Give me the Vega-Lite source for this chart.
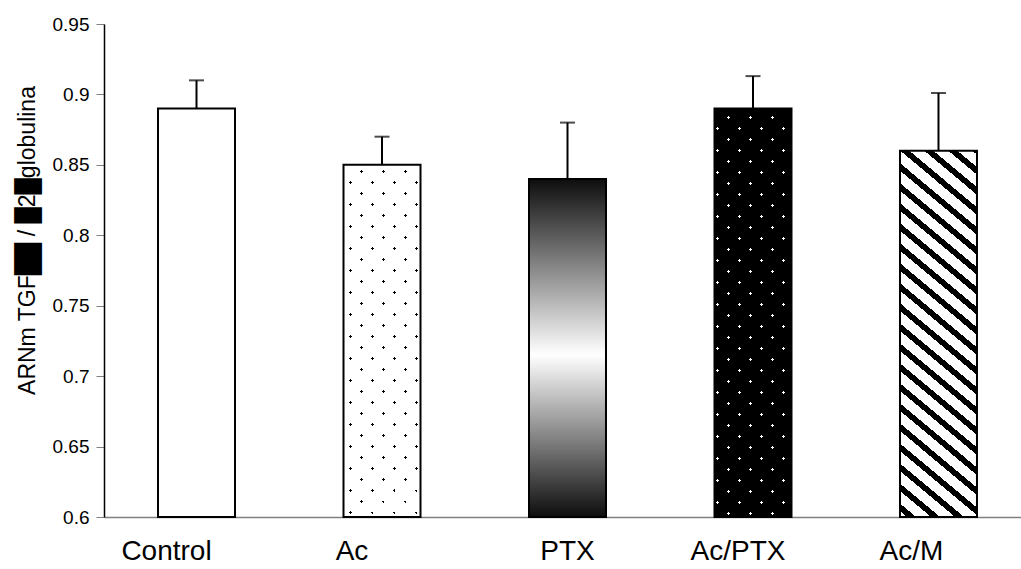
{
  "$schema": "https://vega.github.io/schema/vega-lite/v6.json",
  "autosize": {"type": "none"},
  "padding": {"left": 104, "top": 24, "right": 0, "bottom": 52},
  "width": 917,
  "height": 493,
  "background": "white",
  "config": {"view": {"stroke": null}},
  "data": {"values": [
    {"grupo": "Control", "media": 0.89, "superior": 0.91},
    {"grupo": "Ac", "media": 0.85, "superior": 0.87},
    {"grupo": "PTX", "media": 0.84, "superior": 0.88},
    {"grupo": "Ac/PTX", "media": 0.89, "superior": 0.913},
    {"grupo": "Ac/M", "media": 0.86, "superior": 0.901}
  ]},
  "encoding": {
    "x": {
      "field": "grupo", "type": "nominal", "sort": null,
      "scale": {"paddingInner": 0.5849, "paddingOuter": 0.2642, "align": 0.551, "round": false},
      "axis": {
        "title": null, "labelAngle": 0, "ticks": false,
        "domainColor": "#808080", "domainWidth": 1.5,
        "labelFont": "Liberation Sans", 
        "labelFontSize": 28, "labelColor": "black", "labelPadding": 20,
        "labelOffset": {"condition": [
          {"test": "datum.value === 'Control'", "value": -30},
          {"test": "datum.value === 'Ac'", "value": -30},
          {"test": "datum.value === 'Ac/PTX'", "value": -15},
          {"test": "datum.value === 'Ac/M'", "value": -27}
        ], "value": 0}
      }
    },
    "y": {
      "field": "media", "type": "quantitative",
      "scale": {"domain": [0.6, 0.95], "nice": false, "zero": false},
      "axis": {
        "values": [0.6, 0.65, 0.7, 0.75, 0.8, 0.85, 0.9, 0.95],
        "format": ".2~f", "grid": false,
        "domainColor": "black", "domainWidth": 1.5,
        "tickColor": "#808080", "tickSize": 8, "tickWidth": 1,
        "labelFont": "Liberation Sans",
        "labelFontSize": 19, "labelColor": "black", "labelPadding": 7,
        "title": "ARNm TGF██ / █2█globulina",
        "titleFont": "Liberation Sans",
        "titleFontSize": 23, "titleFontWeight": "normal", "titleColor": "black",
        "titleAngle": 270, "titleAlign": "center", "titleBaseline": "middle",
        "titleX": -77, "titleY": 216
      }
    }
  },
  "layer": [
    {
      "mark": {"type": "bar", "fill": "white", "strokeWidth": 0},
      "encoding": {"y2": {"datum": 0.6}}
    },
    {
      "transform": [{"filter": "datum.grupo === 'PTX'"}],
      "mark": {"type": "bar", "strokeWidth": 0, "fill": {"gradient": "linear", "x1": 0, "y1": 0, "x2": 0, "y2": 1, "stops": [
        {"offset": 0, "color": "#0d0d0d"},
        {"offset": 0.52, "color": "#ffffff"},
        {"offset": 1, "color": "#0d0d0d"}
      ]}},
      "encoding": {"y2": {"datum": 0.6}}
    },
    {
      "transform": [{"filter": "datum.grupo === 'Ac'"}],
      "mark": {"type": "bar", "strokeWidth": 0, "fill": "black"},
      "encoding": {"y2": {"datum": 0.6}}
    },
    {
      "transform": [{"filter": "datum.grupo === 'Ac/M'"}],
      "mark": {"type": "bar", "strokeWidth": 0, "fill": {"gradient": "linear", "x1": 0, "y1": 1, "x2": 0.2, "y2": -0.1405, "stops": [
        {"offset": 0, "color": "white"},
        {"offset": 0.01395, "color": "white"}, {"offset": 0.01395, "color": "black"}, {"offset": 0.03140, "color": "black"}, {"offset": 0.03140, "color": "white"},
        {"offset": 0.06047, "color": "white"}, {"offset": 0.06047, "color": "black"}, {"offset": 0.07791, "color": "black"}, {"offset": 0.07791, "color": "white"},
        {"offset": 0.10698, "color": "white"}, {"offset": 0.10698, "color": "black"}, {"offset": 0.12442, "color": "black"}, {"offset": 0.12442, "color": "white"},
        {"offset": 0.15349, "color": "white"}, {"offset": 0.15349, "color": "black"}, {"offset": 0.17093, "color": "black"}, {"offset": 0.17093, "color": "white"},
        {"offset": 0.20000, "color": "white"}, {"offset": 0.20000, "color": "black"}, {"offset": 0.21744, "color": "black"}, {"offset": 0.21744, "color": "white"},
        {"offset": 0.24651, "color": "white"}, {"offset": 0.24651, "color": "black"}, {"offset": 0.26395, "color": "black"}, {"offset": 0.26395, "color": "white"},
        {"offset": 0.29302, "color": "white"}, {"offset": 0.29302, "color": "black"}, {"offset": 0.31047, "color": "black"}, {"offset": 0.31047, "color": "white"},
        {"offset": 0.33953, "color": "white"}, {"offset": 0.33953, "color": "black"}, {"offset": 0.35698, "color": "black"}, {"offset": 0.35698, "color": "white"},
        {"offset": 0.38605, "color": "white"}, {"offset": 0.38605, "color": "black"}, {"offset": 0.40349, "color": "black"}, {"offset": 0.40349, "color": "white"},
        {"offset": 0.43256, "color": "white"}, {"offset": 0.43256, "color": "black"}, {"offset": 0.45000, "color": "black"}, {"offset": 0.45000, "color": "white"},
        {"offset": 0.47907, "color": "white"}, {"offset": 0.47907, "color": "black"}, {"offset": 0.49651, "color": "black"}, {"offset": 0.49651, "color": "white"},
        {"offset": 0.52558, "color": "white"}, {"offset": 0.52558, "color": "black"}, {"offset": 0.54302, "color": "black"}, {"offset": 0.54302, "color": "white"},
        {"offset": 0.57209, "color": "white"}, {"offset": 0.57209, "color": "black"}, {"offset": 0.58953, "color": "black"}, {"offset": 0.58953, "color": "white"},
        {"offset": 0.61860, "color": "white"}, {"offset": 0.61860, "color": "black"}, {"offset": 0.63605, "color": "black"}, {"offset": 0.63605, "color": "white"},
        {"offset": 0.66512, "color": "white"}, {"offset": 0.66512, "color": "black"}, {"offset": 0.68256, "color": "black"}, {"offset": 0.68256, "color": "white"},
        {"offset": 0.71163, "color": "white"}, {"offset": 0.71163, "color": "black"}, {"offset": 0.72907, "color": "black"}, {"offset": 0.72907, "color": "white"},
        {"offset": 0.75814, "color": "white"}, {"offset": 0.75814, "color": "black"}, {"offset": 0.77558, "color": "black"}, {"offset": 0.77558, "color": "white"},
        {"offset": 0.80465, "color": "white"}, {"offset": 0.80465, "color": "black"}, {"offset": 0.82209, "color": "black"}, {"offset": 0.82209, "color": "white"},
        {"offset": 0.85116, "color": "white"}, {"offset": 0.85116, "color": "black"}, {"offset": 0.86860, "color": "black"}, {"offset": 0.86860, "color": "white"},
        {"offset": 0.89767, "color": "white"}, {"offset": 0.89767, "color": "black"}, {"offset": 0.91512, "color": "black"}, {"offset": 0.91512, "color": "white"},
        {"offset": 0.94419, "color": "white"}, {"offset": 0.94419, "color": "black"}, {"offset": 0.96163, "color": "black"}, {"offset": 0.96163, "color": "white"},
        {"offset": 0.99070, "color": "white"}, {"offset": 0.99070, "color": "black"}, {"offset": 1, "color": "black"}
      ]}},
      "encoding": {"y2": {"datum": 0.6}}
    },
    {
      "transform": [{"filter": "datum.grupo === 'Ac'"}],
      "mark": {"type": "bar", "strokeWidth": 0, "fill": {"gradient": "linear", "x1": 0, "y1": 1, "x2": 0.2544, "y2": -0.1631, "stops": [
        {"offset": 0, "color": "white"},
        {"offset": 0.02261, "color": "white"}, {"offset": 0.02261, "color": "rgba(255,255,255,0)"}, {"offset": 0.02913, "color": "rgba(255,255,255,0)"}, {"offset": 0.02913, "color": "white"},
        {"offset": 0.07388, "color": "white"}, {"offset": 0.07388, "color": "rgba(255,255,255,0)"}, {"offset": 0.08040, "color": "rgba(255,255,255,0)"}, {"offset": 0.08040, "color": "white"},
        {"offset": 0.12515, "color": "white"}, {"offset": 0.12515, "color": "rgba(255,255,255,0)"}, {"offset": 0.13167, "color": "rgba(255,255,255,0)"}, {"offset": 0.13167, "color": "white"},
        {"offset": 0.17642, "color": "white"}, {"offset": 0.17642, "color": "rgba(255,255,255,0)"}, {"offset": 0.18294, "color": "rgba(255,255,255,0)"}, {"offset": 0.18294, "color": "white"},
        {"offset": 0.22769, "color": "white"}, {"offset": 0.22769, "color": "rgba(255,255,255,0)"}, {"offset": 0.23421, "color": "rgba(255,255,255,0)"}, {"offset": 0.23421, "color": "white"},
        {"offset": 0.27896, "color": "white"}, {"offset": 0.27896, "color": "rgba(255,255,255,0)"}, {"offset": 0.28548, "color": "rgba(255,255,255,0)"}, {"offset": 0.28548, "color": "white"},
        {"offset": 0.33023, "color": "white"}, {"offset": 0.33023, "color": "rgba(255,255,255,0)"}, {"offset": 0.33675, "color": "rgba(255,255,255,0)"}, {"offset": 0.33675, "color": "white"},
        {"offset": 0.38150, "color": "white"}, {"offset": 0.38150, "color": "rgba(255,255,255,0)"}, {"offset": 0.38802, "color": "rgba(255,255,255,0)"}, {"offset": 0.38802, "color": "white"},
        {"offset": 0.43277, "color": "white"}, {"offset": 0.43277, "color": "rgba(255,255,255,0)"}, {"offset": 0.43929, "color": "rgba(255,255,255,0)"}, {"offset": 0.43929, "color": "white"},
        {"offset": 0.48404, "color": "white"}, {"offset": 0.48404, "color": "rgba(255,255,255,0)"}, {"offset": 0.49056, "color": "rgba(255,255,255,0)"}, {"offset": 0.49056, "color": "white"},
        {"offset": 0.53531, "color": "white"}, {"offset": 0.53531, "color": "rgba(255,255,255,0)"}, {"offset": 0.54183, "color": "rgba(255,255,255,0)"}, {"offset": 0.54183, "color": "white"},
        {"offset": 0.58658, "color": "white"}, {"offset": 0.58658, "color": "rgba(255,255,255,0)"}, {"offset": 0.59310, "color": "rgba(255,255,255,0)"}, {"offset": 0.59310, "color": "white"},
        {"offset": 0.63785, "color": "white"}, {"offset": 0.63785, "color": "rgba(255,255,255,0)"}, {"offset": 0.64437, "color": "rgba(255,255,255,0)"}, {"offset": 0.64437, "color": "white"},
        {"offset": 0.68912, "color": "white"}, {"offset": 0.68912, "color": "rgba(255,255,255,0)"}, {"offset": 0.69564, "color": "rgba(255,255,255,0)"}, {"offset": 0.69564, "color": "white"},
        {"offset": 0.74039, "color": "white"}, {"offset": 0.74039, "color": "rgba(255,255,255,0)"}, {"offset": 0.74691, "color": "rgba(255,255,255,0)"}, {"offset": 0.74691, "color": "white"},
        {"offset": 0.79166, "color": "white"}, {"offset": 0.79166, "color": "rgba(255,255,255,0)"}, {"offset": 0.79818, "color": "rgba(255,255,255,0)"}, {"offset": 0.79818, "color": "white"},
        {"offset": 0.84293, "color": "white"}, {"offset": 0.84293, "color": "rgba(255,255,255,0)"}, {"offset": 0.84945, "color": "rgba(255,255,255,0)"}, {"offset": 0.84945, "color": "white"},
        {"offset": 0.89420, "color": "white"}, {"offset": 0.89420, "color": "rgba(255,255,255,0)"}, {"offset": 0.90072, "color": "rgba(255,255,255,0)"}, {"offset": 0.90072, "color": "white"},
        {"offset": 0.94547, "color": "white"}, {"offset": 0.94547, "color": "rgba(255,255,255,0)"}, {"offset": 0.95199, "color": "rgba(255,255,255,0)"}, {"offset": 0.95199, "color": "white"},
        {"offset": 1, "color": "white"}
      ]}},
      "encoding": {"y2": {"datum": 0.6}}
    },
    {
      "transform": [{"filter": "datum.grupo === 'Ac'"}],
      "mark": {"type": "bar", "strokeWidth": 0, "fill": {"gradient": "linear", "x1": 0, "y1": 0, "x2": 0.2544, "y2": 1.1631, "stops": [
        {"offset": 0, "color": "white"},
        {"offset": 0.00233, "color": "white"}, {"offset": 0.00233, "color": "rgba(255,255,255,0)"}, {"offset": 0.00885, "color": "rgba(255,255,255,0)"}, {"offset": 0.00885, "color": "white"},
        {"offset": 0.05360, "color": "white"}, {"offset": 0.05360, "color": "rgba(255,255,255,0)"}, {"offset": 0.06012, "color": "rgba(255,255,255,0)"}, {"offset": 0.06012, "color": "white"},
        {"offset": 0.10487, "color": "white"}, {"offset": 0.10487, "color": "rgba(255,255,255,0)"}, {"offset": 0.11139, "color": "rgba(255,255,255,0)"}, {"offset": 0.11139, "color": "white"},
        {"offset": 0.15614, "color": "white"}, {"offset": 0.15614, "color": "rgba(255,255,255,0)"}, {"offset": 0.16266, "color": "rgba(255,255,255,0)"}, {"offset": 0.16266, "color": "white"},
        {"offset": 0.20741, "color": "white"}, {"offset": 0.20741, "color": "rgba(255,255,255,0)"}, {"offset": 0.21393, "color": "rgba(255,255,255,0)"}, {"offset": 0.21393, "color": "white"},
        {"offset": 0.25868, "color": "white"}, {"offset": 0.25868, "color": "rgba(255,255,255,0)"}, {"offset": 0.26520, "color": "rgba(255,255,255,0)"}, {"offset": 0.26520, "color": "white"},
        {"offset": 0.30995, "color": "white"}, {"offset": 0.30995, "color": "rgba(255,255,255,0)"}, {"offset": 0.31647, "color": "rgba(255,255,255,0)"}, {"offset": 0.31647, "color": "white"},
        {"offset": 0.36122, "color": "white"}, {"offset": 0.36122, "color": "rgba(255,255,255,0)"}, {"offset": 0.36774, "color": "rgba(255,255,255,0)"}, {"offset": 0.36774, "color": "white"},
        {"offset": 0.41249, "color": "white"}, {"offset": 0.41249, "color": "rgba(255,255,255,0)"}, {"offset": 0.41901, "color": "rgba(255,255,255,0)"}, {"offset": 0.41901, "color": "white"},
        {"offset": 0.46376, "color": "white"}, {"offset": 0.46376, "color": "rgba(255,255,255,0)"}, {"offset": 0.47028, "color": "rgba(255,255,255,0)"}, {"offset": 0.47028, "color": "white"},
        {"offset": 0.51503, "color": "white"}, {"offset": 0.51503, "color": "rgba(255,255,255,0)"}, {"offset": 0.52155, "color": "rgba(255,255,255,0)"}, {"offset": 0.52155, "color": "white"},
        {"offset": 0.56630, "color": "white"}, {"offset": 0.56630, "color": "rgba(255,255,255,0)"}, {"offset": 0.57282, "color": "rgba(255,255,255,0)"}, {"offset": 0.57282, "color": "white"},
        {"offset": 0.61757, "color": "white"}, {"offset": 0.61757, "color": "rgba(255,255,255,0)"}, {"offset": 0.62409, "color": "rgba(255,255,255,0)"}, {"offset": 0.62409, "color": "white"},
        {"offset": 0.66884, "color": "white"}, {"offset": 0.66884, "color": "rgba(255,255,255,0)"}, {"offset": 0.67536, "color": "rgba(255,255,255,0)"}, {"offset": 0.67536, "color": "white"},
        {"offset": 0.72011, "color": "white"}, {"offset": 0.72011, "color": "rgba(255,255,255,0)"}, {"offset": 0.72663, "color": "rgba(255,255,255,0)"}, {"offset": 0.72663, "color": "white"},
        {"offset": 0.77138, "color": "white"}, {"offset": 0.77138, "color": "rgba(255,255,255,0)"}, {"offset": 0.77790, "color": "rgba(255,255,255,0)"}, {"offset": 0.77790, "color": "white"},
        {"offset": 0.82265, "color": "white"}, {"offset": 0.82265, "color": "rgba(255,255,255,0)"}, {"offset": 0.82917, "color": "rgba(255,255,255,0)"}, {"offset": 0.82917, "color": "white"},
        {"offset": 0.87392, "color": "white"}, {"offset": 0.87392, "color": "rgba(255,255,255,0)"}, {"offset": 0.88044, "color": "rgba(255,255,255,0)"}, {"offset": 0.88044, "color": "white"},
        {"offset": 0.92519, "color": "white"}, {"offset": 0.92519, "color": "rgba(255,255,255,0)"}, {"offset": 0.93171, "color": "rgba(255,255,255,0)"}, {"offset": 0.93171, "color": "white"},
        {"offset": 0.97646, "color": "white"}, {"offset": 0.97646, "color": "rgba(255,255,255,0)"}, {"offset": 0.98298, "color": "rgba(255,255,255,0)"}, {"offset": 0.98298, "color": "white"},
        {"offset": 1, "color": "white"}
      ]}},
      "encoding": {"y2": {"datum": 0.6}}
    },
    {
      "transform": [{"filter": "datum.grupo === 'Ac/PTX'"}],
      "mark": {"type": "bar", "strokeWidth": 0, "fill": {"gradient": "linear", "x1": 0, "y1": 1, "x2": 0.2163, "y2": -0.1477, "stops": [
        {"offset": 0, "color": "black"},
        {"offset": 0.03275, "color": "black"}, {"offset": 0.03275, "color": "rgba(0,0,0,0)"}, {"offset": 0.03851, "color": "rgba(0,0,0,0)"}, {"offset": 0.03851, "color": "black"},
        {"offset": 0.07807, "color": "black"}, {"offset": 0.07807, "color": "rgba(0,0,0,0)"}, {"offset": 0.08383, "color": "rgba(0,0,0,0)"}, {"offset": 0.08383, "color": "black"},
        {"offset": 0.12338, "color": "black"}, {"offset": 0.12338, "color": "rgba(0,0,0,0)"}, {"offset": 0.12914, "color": "rgba(0,0,0,0)"}, {"offset": 0.12914, "color": "black"},
        {"offset": 0.16870, "color": "black"}, {"offset": 0.16870, "color": "rgba(0,0,0,0)"}, {"offset": 0.17446, "color": "rgba(0,0,0,0)"}, {"offset": 0.17446, "color": "black"},
        {"offset": 0.21401, "color": "black"}, {"offset": 0.21401, "color": "rgba(0,0,0,0)"}, {"offset": 0.21977, "color": "rgba(0,0,0,0)"}, {"offset": 0.21977, "color": "black"},
        {"offset": 0.25932, "color": "black"}, {"offset": 0.25932, "color": "rgba(0,0,0,0)"}, {"offset": 0.26508, "color": "rgba(0,0,0,0)"}, {"offset": 0.26508, "color": "black"},
        {"offset": 0.30464, "color": "black"}, {"offset": 0.30464, "color": "rgba(0,0,0,0)"}, {"offset": 0.31040, "color": "rgba(0,0,0,0)"}, {"offset": 0.31040, "color": "black"},
        {"offset": 0.34995, "color": "black"}, {"offset": 0.34995, "color": "rgba(0,0,0,0)"}, {"offset": 0.35571, "color": "rgba(0,0,0,0)"}, {"offset": 0.35571, "color": "black"},
        {"offset": 0.39527, "color": "black"}, {"offset": 0.39527, "color": "rgba(0,0,0,0)"}, {"offset": 0.40103, "color": "rgba(0,0,0,0)"}, {"offset": 0.40103, "color": "black"},
        {"offset": 0.44058, "color": "black"}, {"offset": 0.44058, "color": "rgba(0,0,0,0)"}, {"offset": 0.44634, "color": "rgba(0,0,0,0)"}, {"offset": 0.44634, "color": "black"},
        {"offset": 0.48589, "color": "black"}, {"offset": 0.48589, "color": "rgba(0,0,0,0)"}, {"offset": 0.49165, "color": "rgba(0,0,0,0)"}, {"offset": 0.49165, "color": "black"},
        {"offset": 0.53121, "color": "black"}, {"offset": 0.53121, "color": "rgba(0,0,0,0)"}, {"offset": 0.53697, "color": "rgba(0,0,0,0)"}, {"offset": 0.53697, "color": "black"},
        {"offset": 0.57652, "color": "black"}, {"offset": 0.57652, "color": "rgba(0,0,0,0)"}, {"offset": 0.58228, "color": "rgba(0,0,0,0)"}, {"offset": 0.58228, "color": "black"},
        {"offset": 0.62184, "color": "black"}, {"offset": 0.62184, "color": "rgba(0,0,0,0)"}, {"offset": 0.62760, "color": "rgba(0,0,0,0)"}, {"offset": 0.62760, "color": "black"},
        {"offset": 0.66715, "color": "black"}, {"offset": 0.66715, "color": "rgba(0,0,0,0)"}, {"offset": 0.67291, "color": "rgba(0,0,0,0)"}, {"offset": 0.67291, "color": "black"},
        {"offset": 0.71246, "color": "black"}, {"offset": 0.71246, "color": "rgba(0,0,0,0)"}, {"offset": 0.71822, "color": "rgba(0,0,0,0)"}, {"offset": 0.71822, "color": "black"},
        {"offset": 0.75778, "color": "black"}, {"offset": 0.75778, "color": "rgba(0,0,0,0)"}, {"offset": 0.76354, "color": "rgba(0,0,0,0)"}, {"offset": 0.76354, "color": "black"},
        {"offset": 0.80309, "color": "black"}, {"offset": 0.80309, "color": "rgba(0,0,0,0)"}, {"offset": 0.80885, "color": "rgba(0,0,0,0)"}, {"offset": 0.80885, "color": "black"},
        {"offset": 0.84841, "color": "black"}, {"offset": 0.84841, "color": "rgba(0,0,0,0)"}, {"offset": 0.85417, "color": "rgba(0,0,0,0)"}, {"offset": 0.85417, "color": "black"},
        {"offset": 0.89372, "color": "black"}, {"offset": 0.89372, "color": "rgba(0,0,0,0)"}, {"offset": 0.89948, "color": "rgba(0,0,0,0)"}, {"offset": 0.89948, "color": "black"},
        {"offset": 0.93903, "color": "black"}, {"offset": 0.93903, "color": "rgba(0,0,0,0)"}, {"offset": 0.94479, "color": "rgba(0,0,0,0)"}, {"offset": 0.94479, "color": "black"},
        {"offset": 0.98435, "color": "black"}, {"offset": 0.98435, "color": "rgba(0,0,0,0)"}, {"offset": 0.99011, "color": "rgba(0,0,0,0)"}, {"offset": 0.99011, "color": "black"},
        {"offset": 1, "color": "black"}
      ]}},
      "encoding": {"y2": {"datum": 0.6}}
    },
    {
      "transform": [{"filter": "datum.grupo === 'Ac/PTX'"}],
      "mark": {"type": "bar", "strokeWidth": 0, "fill": {"gradient": "linear", "x1": 0, "y1": 0, "x2": 0.2163, "y2": 1.1477, "stops": [
        {"offset": 0, "color": "rgba(0,0,0,0)"}, {"offset": 0.00535, "color": "rgba(0,0,0,0)"}, {"offset": 0.00535, "color": "black"},
        {"offset": 0.04491, "color": "black"}, {"offset": 0.04491, "color": "rgba(0,0,0,0)"}, {"offset": 0.05067, "color": "rgba(0,0,0,0)"}, {"offset": 0.05067, "color": "black"},
        {"offset": 0.09022, "color": "black"}, {"offset": 0.09022, "color": "rgba(0,0,0,0)"}, {"offset": 0.09598, "color": "rgba(0,0,0,0)"}, {"offset": 0.09598, "color": "black"},
        {"offset": 0.13553, "color": "black"}, {"offset": 0.13553, "color": "rgba(0,0,0,0)"}, {"offset": 0.14129, "color": "rgba(0,0,0,0)"}, {"offset": 0.14129, "color": "black"},
        {"offset": 0.18085, "color": "black"}, {"offset": 0.18085, "color": "rgba(0,0,0,0)"}, {"offset": 0.18661, "color": "rgba(0,0,0,0)"}, {"offset": 0.18661, "color": "black"},
        {"offset": 0.22616, "color": "black"}, {"offset": 0.22616, "color": "rgba(0,0,0,0)"}, {"offset": 0.23192, "color": "rgba(0,0,0,0)"}, {"offset": 0.23192, "color": "black"},
        {"offset": 0.27148, "color": "black"}, {"offset": 0.27148, "color": "rgba(0,0,0,0)"}, {"offset": 0.27724, "color": "rgba(0,0,0,0)"}, {"offset": 0.27724, "color": "black"},
        {"offset": 0.31679, "color": "black"}, {"offset": 0.31679, "color": "rgba(0,0,0,0)"}, {"offset": 0.32255, "color": "rgba(0,0,0,0)"}, {"offset": 0.32255, "color": "black"},
        {"offset": 0.36210, "color": "black"}, {"offset": 0.36210, "color": "rgba(0,0,0,0)"}, {"offset": 0.36786, "color": "rgba(0,0,0,0)"}, {"offset": 0.36786, "color": "black"},
        {"offset": 0.40742, "color": "black"}, {"offset": 0.40742, "color": "rgba(0,0,0,0)"}, {"offset": 0.41318, "color": "rgba(0,0,0,0)"}, {"offset": 0.41318, "color": "black"},
        {"offset": 0.45273, "color": "black"}, {"offset": 0.45273, "color": "rgba(0,0,0,0)"}, {"offset": 0.45849, "color": "rgba(0,0,0,0)"}, {"offset": 0.45849, "color": "black"},
        {"offset": 0.49805, "color": "black"}, {"offset": 0.49805, "color": "rgba(0,0,0,0)"}, {"offset": 0.50381, "color": "rgba(0,0,0,0)"}, {"offset": 0.50381, "color": "black"},
        {"offset": 0.54336, "color": "black"}, {"offset": 0.54336, "color": "rgba(0,0,0,0)"}, {"offset": 0.54912, "color": "rgba(0,0,0,0)"}, {"offset": 0.54912, "color": "black"},
        {"offset": 0.58867, "color": "black"}, {"offset": 0.58867, "color": "rgba(0,0,0,0)"}, {"offset": 0.59443, "color": "rgba(0,0,0,0)"}, {"offset": 0.59443, "color": "black"},
        {"offset": 0.63399, "color": "black"}, {"offset": 0.63399, "color": "rgba(0,0,0,0)"}, {"offset": 0.63975, "color": "rgba(0,0,0,0)"}, {"offset": 0.63975, "color": "black"},
        {"offset": 0.67930, "color": "black"}, {"offset": 0.67930, "color": "rgba(0,0,0,0)"}, {"offset": 0.68506, "color": "rgba(0,0,0,0)"}, {"offset": 0.68506, "color": "black"},
        {"offset": 0.72462, "color": "black"}, {"offset": 0.72462, "color": "rgba(0,0,0,0)"}, {"offset": 0.73038, "color": "rgba(0,0,0,0)"}, {"offset": 0.73038, "color": "black"},
        {"offset": 0.76993, "color": "black"}, {"offset": 0.76993, "color": "rgba(0,0,0,0)"}, {"offset": 0.77569, "color": "rgba(0,0,0,0)"}, {"offset": 0.77569, "color": "black"},
        {"offset": 0.81524, "color": "black"}, {"offset": 0.81524, "color": "rgba(0,0,0,0)"}, {"offset": 0.82100, "color": "rgba(0,0,0,0)"}, {"offset": 0.82100, "color": "black"},
        {"offset": 0.86056, "color": "black"}, {"offset": 0.86056, "color": "rgba(0,0,0,0)"}, {"offset": 0.86632, "color": "rgba(0,0,0,0)"}, {"offset": 0.86632, "color": "black"},
        {"offset": 0.90587, "color": "black"}, {"offset": 0.90587, "color": "rgba(0,0,0,0)"}, {"offset": 0.91163, "color": "rgba(0,0,0,0)"}, {"offset": 0.91163, "color": "black"},
        {"offset": 0.95119, "color": "black"}, {"offset": 0.95119, "color": "rgba(0,0,0,0)"}, {"offset": 0.95695, "color": "rgba(0,0,0,0)"}, {"offset": 0.95695, "color": "black"},
        {"offset": 1, "color": "black"}
      ]}},
      "encoding": {"y2": {"datum": 0.6}}
    },
    {
      "mark": {"type": "bar", "fill": "transparent", "stroke": "black", "strokeWidth": 2},
      "encoding": {"y2": {"datum": 0.6}}
    },
    {
      "mark": {"type": "rule", "color": "black", "strokeWidth": 2},
      "encoding": {"y2": {"field": "superior"}}
    },
    {
      "mark": {"type": "tick", "color": "black", "thickness": 2, "size": 15},
      "encoding": {"y": {"field": "superior", "type": "quantitative"}}
    }
  ]
}
